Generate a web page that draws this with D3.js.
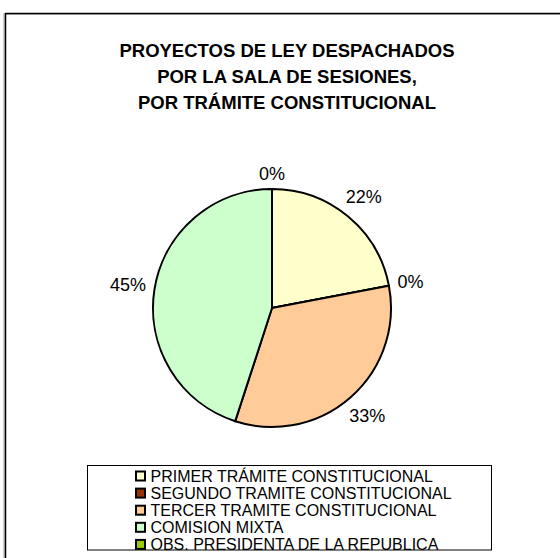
<!DOCTYPE html>
<html>
<head>
<meta charset="utf-8">
<script src="https://cdn.jsdelivr.net/npm/d3@7/dist/d3.min.js"></script>
<style>
  html, body { margin: 0; padding: 0; background: #fff; }
  svg { display: block; font-family: Arial, "Liberation Sans", sans-serif; }
</style>
</head>
<body>
<svg id="chart" width="560" height="558"></svg>
<script>
const titleLines = ["PROYECTOS DE LEY DESPACHADOS", "POR LA SALA DE SESIONES,", "POR TRÁMITE CONSTITUCIONAL"];
const categories = ["PRIMER TRÁMITE CONSTITUCIONAL", "SEGUNDO TRAMITE CONSTITUCIONAL", "TERCER TRAMITE CONSTITUCIONAL", "COMISION MIXTA", "OBS. PRESIDENTA DE LA REPUBLICA"];
const values = [22, 0, 33, 45, 0];
const colors = ["#FFFFCC", "#993300", "#FFCC99", "#CCFFCC", "#99CC00"];

const svg = d3.select("#chart");
const W = 560, H = 558;

// outer chart frame (extends beyond view on right/bottom)
svg.append("line").attr("x1", 4).attr("y1", 13).attr("x2", 4).attr("y2", H).attr("stroke", "#999").attr("stroke-width", 1);
svg.append("line").attr("x1", 5).attr("y1", 14.5).attr("x2", W).attr("y2", 14.5).attr("stroke", "#bbb").attr("stroke-width", 1);
svg.append("line").attr("x1", 5.5).attr("y1", 13).attr("x2", 5.5).attr("y2", H).attr("stroke", "#000").attr("stroke-width", 1.5);
svg.append("line").attr("x1", 5).attr("y1", 13.5).attr("x2", W).attr("y2", 13.5).attr("stroke", "#000").attr("stroke-width", 1.5);

// title
const title = svg.append("text").attr("text-anchor", "middle").attr("font-weight", "bold").attr("font-size", 18.5).attr("fill", "#000");
titleLines.forEach((t, i) => {
  title.append("tspan").attr("x", 287).attr("y", 56.5 + i * 26).text(t);
});

// pie
const cx = 272, cy = 308, R = 119;
const g = svg.append("g").attr("transform", `translate(${cx},${cy})`);
const pie = d3.pie().sort(null).value(d => d.v);
const data = pie(values.map((v, i) => ({ v, i })));
const arc = d3.arc().innerRadius(0).outerRadius(R);
g.selectAll("path.slice").data(data).join("path")
  .attr("class", "slice")
  .attr("d", arc)
  .attr("fill", d => colors[d.data.i])
  .attr("stroke", "#000")
  .attr("stroke-width", 2)
  .attr("stroke-linejoin", "round");

// labels
const total = d3.sum(values);
const fmt = v => Math.round(v / total * 100) + "%";
const labelG = svg.append("g").attr("font-size", 18).attr("fill", "#000");
data.forEach(d => {
  const a = (d.startAngle + d.endAngle) / 2;
  const t = labelG.append("text").attr("text-anchor", "middle").attr("dominant-baseline", "central").text(fmt(d.data.v));
  const w = t.node().getComputedTextLength();
  const h = 14;
  const r = R + 8 + (w / 2) * Math.abs(Math.sin(a)) + (h / 2) * Math.abs(Math.cos(a));
  t.attr("x", cx + r * Math.sin(a)).attr("y", cy - r * Math.cos(a));
});

// legend
const lx = 87, ly = 465.5, lw = 404, lh = 84.5;
svg.append("defs").append("clipPath").attr("id", "legclip")
  .append("rect").attr("x", lx).attr("y", ly).attr("width", lw).attr("height", lh);
const leg = svg.append("g").attr("clip-path", "url(#legclip)");
categories.forEach((c, i) => {
  const yc = 476 + i * 17.1;
  leg.append("rect").attr("x", 136).attr("y", yc - 4.5).attr("width", 9).attr("height", 9)
    .attr("fill", colors[i]).attr("stroke", "#000").attr("stroke-width", 2);
  leg.append("text").attr("x", 150.5).attr("y", yc).attr("dominant-baseline", "central")
    .attr("font-size", 16).attr("fill", "#000").text(c);
});
svg.append("rect").attr("x", lx + 0.5).attr("y", ly).attr("width", lw).attr("height", lh)
  .attr("fill", "none").attr("stroke", "#000").attr("stroke-width", 1);
</script>
</body>
</html>
